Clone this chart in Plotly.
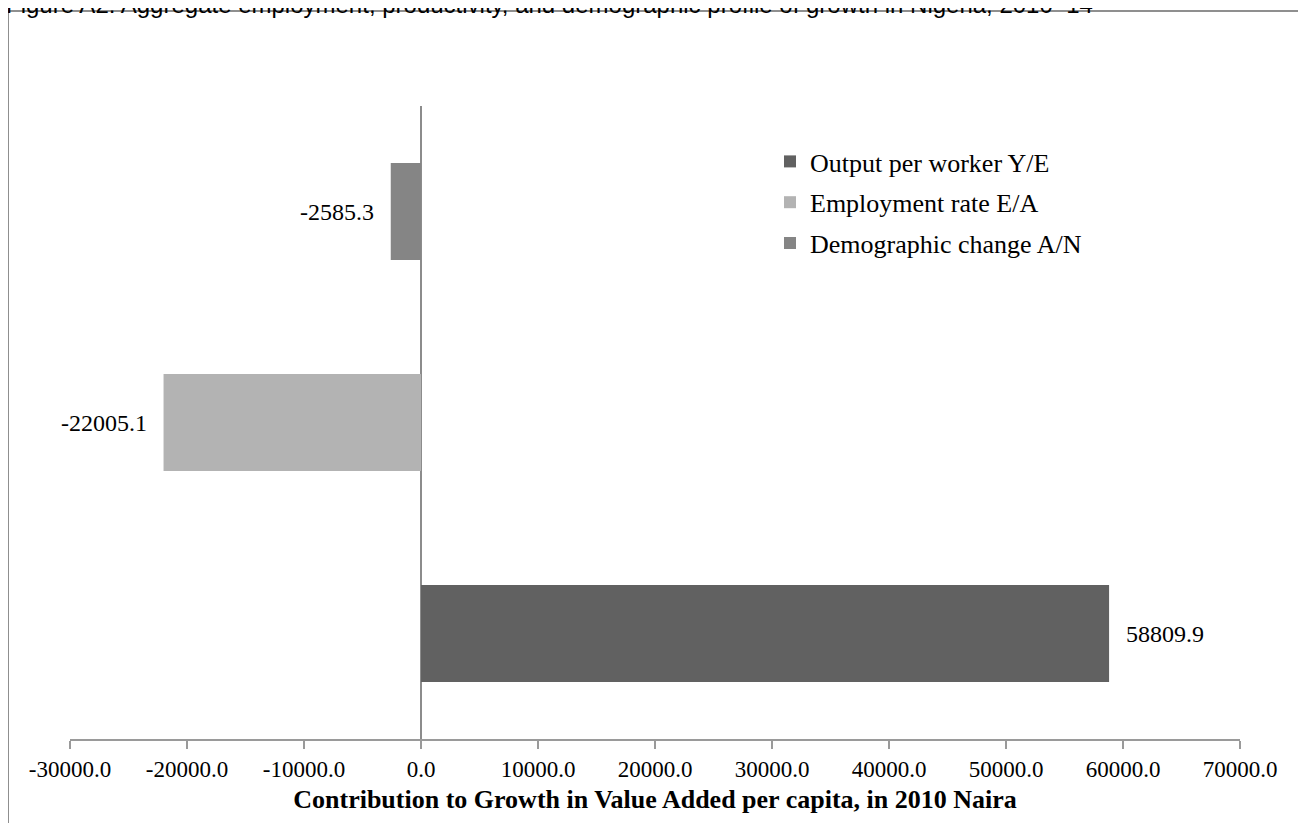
import plotly.graph_objects as go

# ---- data ----
series_names = ["Output per worker Y/E", "Employment rate E/A", "Demographic change A/N"]
series_values = [58809.9, -22005.1, -2585.3]
series_colors = ["#616161", "#b3b3b3", "#858585"]
tick_values = [-30000, -20000, -10000, 0, 10000, 20000, 30000, 40000, 50000, 60000, 70000]
tick_labels = [f"{v:.1f}" for v in tick_values]
x_title = "Contribution to Growth in Value Added per capita, in 2010 Naira"
fig_title = "Figure A2: Aggregate employment, productivity, and demographic profile of growth in Nigeria, 2010\u201314"

# page has an 8px body margin; figure sized to fit the window
W, H = 1298, 815
L, R, T, B = 62, 66, 98, 84
PW, PH = W - L - R, H - T - B

def px_x(px):
    return (px - L) / PW

def px_y(py):
    return (H - B - py) / PH

serif = "Liberation Serif, Times New Roman, serif"

fig = go.Figure()
for i, (name, val, col) in enumerate(zip(series_names, series_values, series_colors)):
    fig.add_trace(go.Bar(
        x=[val], y=[name], orientation="h", name=name,
        marker=dict(color=col, line=dict(width=0)),
        width=0.46,
        legendgroup=f"g{i}",
        hoverinfo="x+name",
    ))
    fig.add_annotation(
        x=val, y=name, xref="x", yref="y",
        text=f"{val:.1f}", showarrow=False,
        xanchor="left" if val >= 0 else "right",
        xshift=15 if val >= 0 else -15,
        font=dict(family=serif, size=24, color="#000"),
    )

fig.update_layout(
    width=W, height=H,
    margin=dict(l=L, r=R, t=T, b=B),
    paper_bgcolor="white", plot_bgcolor="white",
    barmode="overlay",
    showlegend=True,
    legend=dict(
        x=px_x(762), y=px_y(130), xanchor="left", yanchor="top",
        font=dict(family=serif, size=26, color="#000"),
        bgcolor="rgba(0,0,0,0)", tracegroupgap=4, traceorder="grouped",
    ),
    font=dict(family=serif, color="#000"),
)

fig.update_xaxes(
    range=[-30000, 70000],
    tickvals=tick_values, ticktext=tick_labels,
    tickfont=dict(family=serif, size=23, color="#000"),
    showline=True, linecolor="#9a9a9a", linewidth=2,
    ticks="outside", ticklen=8, tickwidth=2, tickcolor="#9a9a9a",
    showgrid=False,
    zeroline=True, zerolinecolor="#8c8c8c", zerolinewidth=2,
    title=dict(text=f"<b>{x_title}</b>", font=dict(family=serif, size=26, color="#000"), standoff=9),
    ticklabelstandoff=0,
)
fig.update_yaxes(
    categoryorder="array", categoryarray=series_names,
    showticklabels=False, showgrid=False, showline=False, zeroline=False,
    ticks="", range=[-0.5, 2.5],
)

# outer frame
fig.add_shape(
    type="rect", xref="paper", yref="paper",
    x0=px_x(0), x1=px_x(1320), y0=px_y(840), y1=px_y(3),
    line=dict(color="#8f8f8f", width=2), fillcolor="rgba(0,0,0,0)", layer="below",
)

fig.add_annotation(
    text=fig_title, xref="paper", yref="paper",
    x=px_x(-4), y=px_y(12), xanchor="left", yanchor="bottom",
    showarrow=False, font=dict(family="Liberation Sans, Arial, sans-serif", size=24, color="#000"),
)

fig.write_html("out.html")
